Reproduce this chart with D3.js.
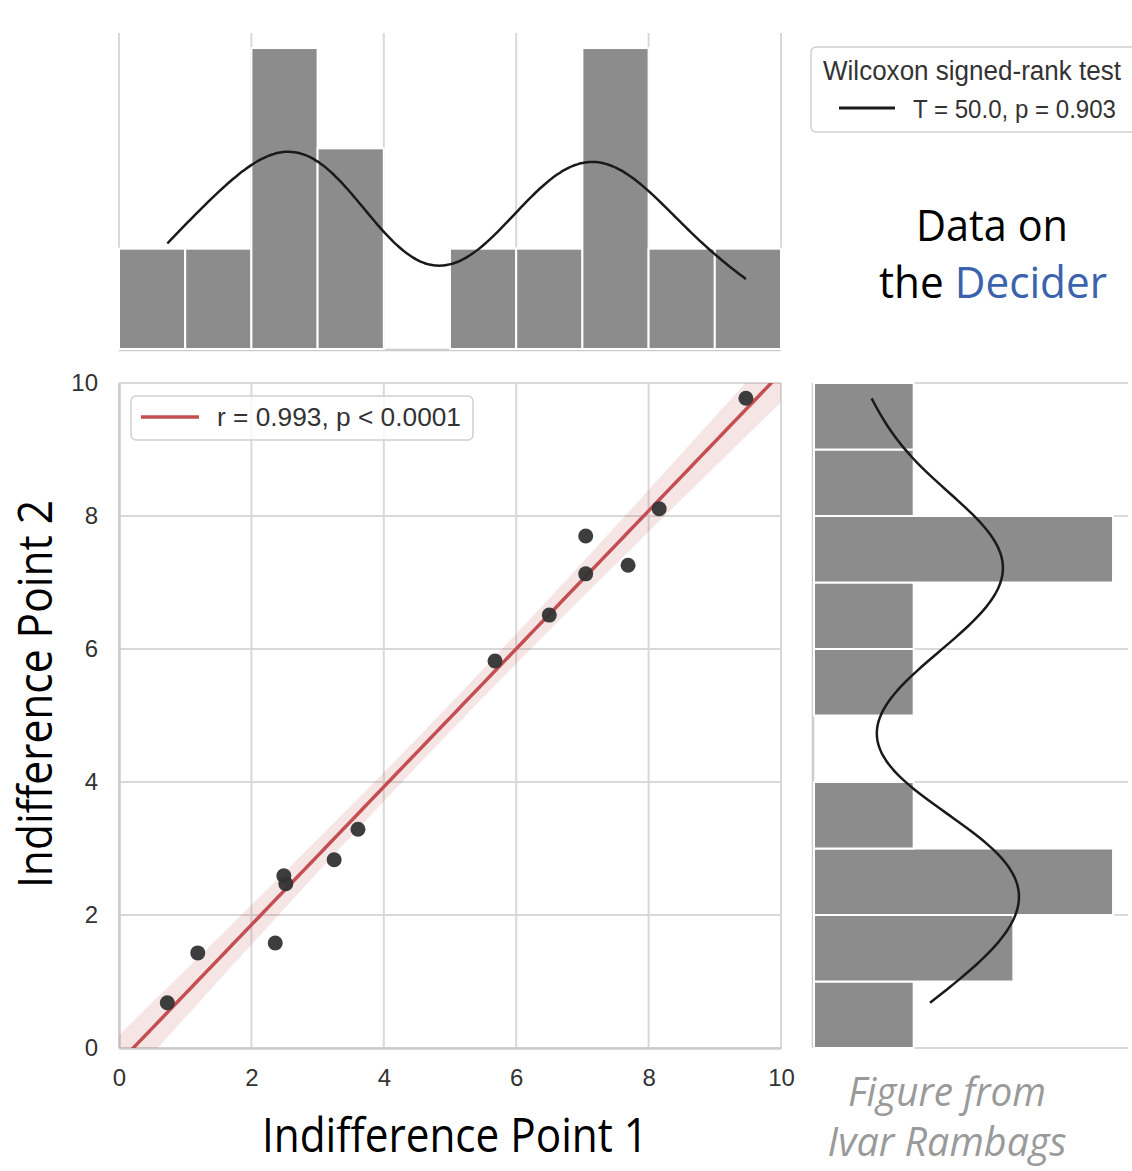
<!DOCTYPE html>
<html>
<head>
<meta charset="utf-8">
<script src="https://cdn.jsdelivr.net/npm/d3@7"></script>
<style>
  body { margin: 0; background: #fff; }
  svg { display: block; }
</style>
</head>
<body>
<div class="chart"></div>
<script>
// scatter data
const point1 = [0.73, 1.19, 2.36, 2.49, 2.52, 3.25, 3.61, 5.68, 6.50, 7.05, 7.05, 7.69, 8.16, 9.47];
const point2 = [0.68, 1.43, 1.58, 2.59, 2.47, 2.83, 3.29, 5.82, 6.51, 7.70, 7.13, 7.26, 8.11, 9.77];
const ticks = [0, 2, 4, 6, 8, 10];
const binEdges = [0, 1, 2, 3, 4, 5, 6, 7, 8, 9, 10];
const corrLabel = 'r = 0.993, p < 0.0001';
const testTitle = 'Wilcoxon signed-rank test';
const testLabel = 'T = 50.0, p = 0.903';

const w = 1132;
const h = 1171;
const plotL = 119, plotR = 781, plotT = 383, plotB = 1048;
const margTop = 33, margBottom = 349;
const margLeft = 814, margRight = 1128;

const gridColor = '#d9d9d9';
const spineColor = '#cccccc';
const barColor = '#8c8c8c';
const red = '#c44e52';

const svg = d3.select('.chart').append('svg').attr('width', w).attr('height', h);

const xScale = d3.scaleLinear().domain([0, 10]).range([plotL, plotR]);
const yScale = d3.scaleLinear().domain([0, 10]).range([plotB, plotT]);
const countY = d3.scaleLinear().domain([0, 3.15]).range([margBottom, margTop]);
const countX = d3.scaleLinear().domain([0, 3.15]).range([margLeft, margRight]);

svg.append('clipPath').attr('id', 'main-clip')
	.append('rect').attr('x', plotL).attr('y', plotT).attr('width', plotR - plotL).attr('height', plotB - plotT);

// ---- main grid
const grid = svg.append('g');
grid.selectAll('.vg').data(ticks).enter().append('line')
	.attr('x1', d => xScale(d)).attr('x2', d => xScale(d))
	.attr('y1', plotT).attr('y2', plotB)
	.attr('stroke', gridColor).attr('stroke-width', 2);
grid.selectAll('.hg').data(ticks).enter().append('line')
	.attr('x1', plotL).attr('x2', plotR)
	.attr('y1', d => yScale(d)).attr('y2', d => yScale(d))
	.attr('stroke', gridColor).attr('stroke-width', 2);

// top marginal grid (vertical only)
grid.selectAll('.tg').data(ticks).enter().append('line')
	.attr('x1', d => xScale(d)).attr('x2', d => xScale(d))
	.attr('y1', margTop).attr('y2', margBottom)
	.attr('stroke', gridColor).attr('stroke-width', 2);
// right marginal grid (horizontal only)
grid.selectAll('.rg').data(ticks).enter().append('line')
	.attr('x1', margLeft).attr('x2', margRight)
	.attr('y1', d => yScale(d)).attr('y2', d => yScale(d))
	.attr('stroke', gridColor).attr('stroke-width', 2);

// ---- axes
const xAxis = svg.append('g')
	.attr('transform', 'translate(0,' + plotB + ')')
	.call(d3.axisBottom(xScale).tickValues(ticks).tickSize(0).tickPadding(21).tickFormat(d3.format('d')));
const yAxis = svg.append('g')
	.attr('transform', 'translate(' + plotL + ',0)')
	.call(d3.axisLeft(yScale).tickValues(ticks).tickSize(0).tickPadding(21).tickFormat(d3.format('d')));
[xAxis, yAxis].forEach(a => {
	a.select('.domain').attr('stroke', spineColor).attr('stroke-width', 2.5);
	a.selectAll('text')
		.attr('font-family', 'Liberation Sans, Arial, sans-serif')
		.attr('font-size', 24)
		.attr('fill', '#333');
});

// marginal spines
svg.append('line').attr('x1', plotL).attr('x2', plotR).attr('y1', margBottom + 1).attr('y2', margBottom + 1)
	.attr('stroke', spineColor).attr('stroke-width', 2.5);
svg.append('line').attr('x1', margLeft - 1).attr('x2', margLeft - 1).attr('y1', plotT).attr('y2', plotB)
	.attr('stroke', spineColor).attr('stroke-width', 2.5);

// ---- histograms
const binner = d3.bin().domain([0, 10]).thresholds(binEdges.slice(1, -1));
const binsX = binner(point1);
const binsY = binner(point2);

svg.append('g').selectAll('rect').data(binsX).enter().append('rect')
	.attr('x', d => xScale(d.x0))
	.attr('y', d => countY(d.length))
	.attr('width', d => xScale(d.x1) - xScale(d.x0))
	.attr('height', d => countY(0) - countY(d.length))
	.attr('fill', barColor).attr('stroke', '#fff').attr('stroke-width', 2)
	.style('display', d => d.length ? null : 'none');

svg.append('g').selectAll('rect').data(binsY).enter().append('rect')
	.attr('x', countX(0))
	.attr('y', d => yScale(d.x1))
	.attr('width', d => countX(d.length) - countX(0))
	.attr('height', d => yScale(d.x0) - yScale(d.x1))
	.attr('fill', barColor).attr('stroke', '#fff').attr('stroke-width', 2)
	.style('display', d => d.length ? null : 'none');

// kernel density of the same points, in count units (n * bin width)
function kde(values, bw, steps) {
	const lo = d3.min(values), hi = d3.max(values);
	return d3.range(steps + 1).map(i => {
		const v = lo + (hi - lo) * i / steps;
		const s = d3.sum(values, x => Math.exp(-0.5 * ((v - x) / bw) ** 2));
		return [v, s / (bw * Math.sqrt(2 * Math.PI))];
	});
}
const kdeX = kde(point1, 1.0, 200);
const kdeY = kde(point2, 1.0, 200);

svg.append('path').datum(kdeX)
	.attr('d', d3.line().x(d => xScale(d[0])).y(d => countY(d[1])).curve(d3.curveBasis))
	.attr('fill', 'none').attr('stroke', '#1a1a1a').attr('stroke-width', 2.5);
svg.append('path').datum(kdeY)
	.attr('d', d3.line().x(d => countX(d[1])).y(d => yScale(d[0])).curve(d3.curveBasis))
	.attr('fill', 'none').attr('stroke', '#1a1a1a').attr('stroke-width', 2.5);

// ---- regression line + 95% band
const n = point1.length;
const mx = d3.mean(point1), my = d3.mean(point2);
const sxx = d3.sum(point1, x => (x - mx) ** 2);
const sxy = d3.sum(point1, (x, i) => (x - mx) * (point2[i] - my));
const slope = sxy / sxx;
const icpt = my - slope * mx;
const resid = Math.sqrt(d3.sum(point1, (x, i) => (point2[i] - (icpt + slope * x)) ** 2) / (n - 2));
const tval = 2.179;
const fitPts = d3.range(0, 10.01, 0.1).map(x => {
	const yh = icpt + slope * x;
	const se = resid * Math.sqrt(1 / n + (x - mx) ** 2 / sxx);
	return { x: x, y: yh, lo: yh - tval * se, hi: yh + tval * se };
});

const fitG = svg.append('g').attr('clip-path', 'url(#main-clip)');
fitG.append('path').datum(fitPts)
	.attr('d', d3.area().x(d => xScale(d.x)).y0(d => yScale(d.lo)).y1(d => yScale(d.hi)))
	.attr('fill', red).attr('fill-opacity', 0.15);
fitG.append('path').datum(fitPts)
	.attr('d', d3.line().x(d => xScale(d.x)).y(d => yScale(d.y)))
	.attr('fill', 'none').attr('stroke', red).attr('stroke-width', 3.5);

// ---- points
svg.append('g').selectAll('circle').data(point1).enter().append('circle')
	.attr('cx', d => xScale(d))
	.attr('cy', (d, i) => yScale(point2[i]))
	.attr('r', 7.5)
	.attr('fill', '#333').attr('fill-opacity', 0.95);

// ---- legends
const leg1 = svg.append('g');
leg1.append('rect').attr('x', 131).attr('y', 396).attr('width', 342).attr('height', 44).attr('rx', 5)
	.attr('fill', '#fff').attr('fill-opacity', 0.8).attr('stroke', '#d0d0d0').attr('stroke-width', 1.5);
leg1.append('line').attr('x1', 141).attr('x2', 199).attr('y1', 417).attr('y2', 417)
	.attr('stroke', red).attr('stroke-width', 3.5);
leg1.append('text').attr('x', 217).attr('y', 426)
	.attr('font-family', 'Liberation Sans, Arial, sans-serif').attr('font-size', 25)
	.attr('textLength', 244).attr('lengthAdjust', 'spacingAndGlyphs')
	.attr('fill', '#333').text(corrLabel);

// legend box runs off the right edge, as in the source figure; texts kept inside
const leg2 = svg.append('g');
leg2.append('rect').attr('x', 811).attr('y', 47).attr('width', 360).attr('height', 85).attr('rx', 5)
	.attr('fill', '#fff').attr('stroke', '#d0d0d0').attr('stroke-width', 1.5);
leg2.append('text').attr('x', 823).attr('y', 80)
	.attr('font-family', 'Liberation Sans, Arial, sans-serif').attr('font-size', 27)
	.attr('textLength', 298).attr('lengthAdjust', 'spacingAndGlyphs')
	.attr('fill', '#333').text(testTitle);
leg2.append('line').attr('x1', 839).attr('x2', 895).attr('y1', 108).attr('y2', 108)
	.attr('stroke', '#1a1a1a').attr('stroke-width', 3);
leg2.append('text').attr('x', 913).attr('y', 118)
	.attr('font-family', 'Liberation Sans, Arial, sans-serif').attr('font-size', 26)
	.attr('textLength', 203).attr('lengthAdjust', 'spacingAndGlyphs')
	.attr('fill', '#333').text(testLabel);

// ---- axis titles and notes
const bigFont = 'Open Sans, Noto Sans, sans-serif';
svg.append('text').attr('x', 455).attr('y', 1152).attr('text-anchor', 'middle')
	.attr('font-family', bigFont).attr('font-size', 48)
	.attr('textLength', 386).attr('lengthAdjust', 'spacingAndGlyphs')
	.attr('fill', '#000').text('Indifference Point 1');
svg.append('text').attr('transform', 'translate(52,694) rotate(-90)').attr('text-anchor', 'middle')
	.attr('font-family', bigFont).attr('font-size', 48)
	.attr('textLength', 388).attr('lengthAdjust', 'spacingAndGlyphs')
	.attr('fill', '#000').text('Indifference Point 2');

svg.append('text').attr('x', 992).attr('y', 241).attr('text-anchor', 'middle')
	.attr('font-family', bigFont).attr('font-size', 44)
	.attr('textLength', 152).attr('lengthAdjust', 'spacingAndGlyphs')
	.attr('fill', '#000').text('Data on');
const dec = svg.append('text').attr('x', 993).attr('y', 298).attr('text-anchor', 'middle')
	.attr('font-family', bigFont).attr('font-size', 44)
	.attr('textLength', 228).attr('lengthAdjust', 'spacingAndGlyphs')
	.attr('fill', '#000');
dec.append('tspan').text('the ');
dec.append('tspan').attr('fill', '#3a62ad').text('Decider');

svg.append('text').attr('x', 947).attr('y', 1106).attr('text-anchor', 'middle')
	.attr('font-family', bigFont).attr('font-size', 40).attr('font-style', 'italic')
	.attr('textLength', 198).attr('lengthAdjust', 'spacingAndGlyphs')
	.attr('fill', '#9a9a9a').text('Figure from');
svg.append('text').attr('x', 947).attr('y', 1156).attr('text-anchor', 'middle')
	.attr('font-family', bigFont).attr('font-size', 40).attr('font-style', 'italic')
	.attr('textLength', 239).attr('lengthAdjust', 'spacingAndGlyphs')
	.attr('fill', '#9a9a9a').text('Ivar Rambags');
</script>
</body>
</html>
